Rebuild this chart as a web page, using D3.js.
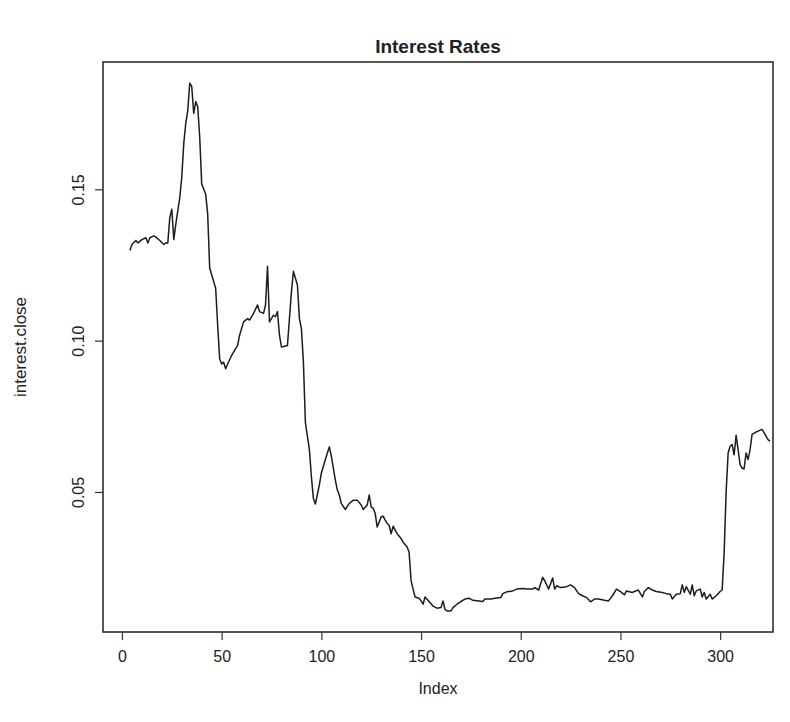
<!DOCTYPE html>
<html>
<head>
<meta charset="utf-8">
<title>Interest Rates</title>
<script src="https://cdn.jsdelivr.net/npm/d3@7/dist/d3.min.js"></script>
<style>
  html, body { margin: 0; padding: 0; background: #fff; }
  svg { display: block; }
  text { font-family: "Liberation Sans", Arial, sans-serif; fill: #222; }
</style>
</head>
<body>
<div id="chart"></div>
<script>
// Observation number (Index) of each vertex of the series
const index = [
  4, 5, 7, 8, 10, 12, 13, 14, 16, 17, 19, 21, 22, 23, 24, 25, 26, 27, 29, 30,
  31, 32, 33, 34, 35, 36, 37, 38, 39, 40, 41, 42, 43, 44, 45, 47, 48, 49, 50, 51,
  52, 53, 55, 58, 59, 61, 63, 64, 66, 68, 69, 71, 72, 73, 74, 76, 77, 78, 79, 80,
  83, 84, 85, 86, 88, 89, 90, 91, 92, 94, 95, 96, 97, 99, 100, 102, 104, 105, 107, 108,
  109, 110, 112, 114, 116, 118, 120, 121, 123, 124, 125, 126, 127, 128, 130, 131, 132, 133, 134, 135,
  136, 138, 140, 141, 143, 144, 145, 146, 147, 149, 150, 151, 152, 154, 156, 158, 160, 161, 162, 163,
  165, 166, 168, 170, 172, 174, 176, 179, 181, 182, 185, 187, 190, 191, 193, 196, 198, 201, 203, 206,
  207, 209, 211, 212, 214, 216, 217, 218, 220, 223, 225, 227, 229, 231, 233, 235, 237, 239, 242, 244,
  246, 248, 250, 252, 253, 256, 257, 259, 261, 262, 264, 266, 268, 271, 273, 275, 276, 278, 280, 281,
  282, 283, 285, 286, 287, 288, 290, 291, 292, 293, 295, 296, 298, 300, 301, 302, 303, 304, 305, 306,
  307, 308, 309, 310, 311, 312, 313, 314, 315, 316, 318, 319, 321, 322, 324, 325
];

// interest.close at each of those observations
const close = [
  0.1298, 0.1318, 0.1331, 0.1323, 0.1334, 0.1340, 0.1323, 0.1340, 0.1346, 0.1342,
  0.1331, 0.1318, 0.1323, 0.1323, 0.1407, 0.1434, 0.1334, 0.1384, 0.1473, 0.1540,
  0.1651, 0.1718, 0.1760, 0.1851, 0.1840, 0.1751, 0.1790, 0.1773, 0.1673, 0.1518,
  0.1501, 0.1484, 0.1418, 0.1240, 0.1218, 0.1173, 0.1051, 0.0940, 0.0923, 0.0929,
  0.0907, 0.0923, 0.0951, 0.0984, 0.1018, 0.1062, 0.1073, 0.1068, 0.1090, 0.1118,
  0.1096, 0.1090, 0.1118, 0.1246, 0.1062, 0.1084, 0.1079, 0.1096, 0.1018, 0.0979,
  0.0984, 0.1073, 0.1162, 0.1229, 0.1184, 0.1073, 0.1040, 0.0929, 0.0729, 0.0640,
  0.0551, 0.0479, 0.0460, 0.0523, 0.0562, 0.0607, 0.0649, 0.0618, 0.0540, 0.0507,
  0.0490, 0.0462, 0.0442, 0.0462, 0.0473, 0.0473, 0.0457, 0.0442, 0.0457, 0.0490,
  0.0451, 0.0446, 0.0429, 0.0384, 0.0418, 0.0420, 0.0407, 0.0396, 0.0390, 0.0362,
  0.0387, 0.0362, 0.0346, 0.0334, 0.0318, 0.0301, 0.0207, 0.0179, 0.0153, 0.0149,
  0.0140, 0.0129, 0.0153, 0.0138, 0.0123, 0.0116, 0.0118, 0.0140, 0.0112, 0.0107,
  0.0107, 0.0118, 0.0129, 0.0138, 0.0146, 0.0149, 0.0142, 0.0140, 0.0138, 0.0146,
  0.0146, 0.0149, 0.0151, 0.0164, 0.0170, 0.0173, 0.0179, 0.0181, 0.0179, 0.0179,
  0.0184, 0.0176, 0.0218, 0.0207, 0.0179, 0.0216, 0.0179, 0.0190, 0.0184, 0.0187,
  0.0193, 0.0184, 0.0164, 0.0157, 0.0151, 0.0137, 0.0146, 0.0146, 0.0142, 0.0140,
  0.0157, 0.0179, 0.0171, 0.0160, 0.0173, 0.0168, 0.0171, 0.0176, 0.0153, 0.0171,
  0.0184, 0.0176, 0.0171, 0.0168, 0.0164, 0.0162, 0.0146, 0.0162, 0.0164, 0.0193,
  0.0168, 0.0187, 0.0162, 0.0193, 0.0157, 0.0173, 0.0179, 0.0153, 0.0168, 0.0146,
  0.0162, 0.0146, 0.0157, 0.0171, 0.0176, 0.0300, 0.0500, 0.0629, 0.0651, 0.0657,
  0.0623, 0.0687, 0.0640, 0.0590, 0.0579, 0.0576, 0.0629, 0.0607, 0.0640, 0.0690,
  0.0698, 0.0701, 0.0707, 0.0696, 0.0673, 0.0668
];

const xTicks = [0, 50, 100, 150, 200, 250, 300];
const yTicks = [0.05, 0.10, 0.15];
const xLimits = [-9.5, 326.5];

const width = 790, height = 722;
const box = { left: 103, right: 773, top: 62, bottom: 632 };

const svg = d3.select("#chart").append("svg")
  .attr("width", width)
  .attr("height", height);

const x = d3.scaleLinear().domain(xLimits).range([box.left, box.right]);

// y limits padded 4% beyond the data range on both sides
const [yMin, yMax] = d3.extent(close);
const pad = 0.04 * (yMax - yMin);
const y = d3.scaleLinear().domain([yMin - pad, yMax + pad]).range([box.bottom, box.top]);

const points = index.map((d, i) => [d, close[i]]);

// series line
svg.append("path")
  .datum(points)
  .attr("fill", "none")
  .attr("stroke", "#1c1c1c")
  .attr("stroke-width", 1.5)
  .attr("stroke-linejoin", "round")
  .attr("d", d3.line().x(d => x(d[0])).y(d => y(d[1])));

// plot frame
svg.append("rect")
  .attr("x", box.left)
  .attr("y", box.top)
  .attr("width", box.right - box.left)
  .attr("height", box.bottom - box.top)
  .attr("fill", "none")
  .attr("stroke", "#222")
  .attr("stroke-width", 1.5);

// x axis
const xAxis = svg.append("g")
  .attr("transform", `translate(0,${box.bottom})`)
  .call(d3.axisBottom(x).tickValues(xTicks).tickFormat(d3.format("d"))
    .tickSizeInner(8).tickSizeOuter(0).tickPadding(11));
xAxis.select(".domain").remove();
xAxis.selectAll("line").attr("stroke", "#333").attr("stroke-width", 1.2);
xAxis.selectAll("text")
  .style("font-family", '"Liberation Sans", Arial, sans-serif')
  .style("font-size", "16px")
  .attr("fill", "#222");

// y axis with rotated labels
const yAxis = svg.append("g")
  .attr("transform", `translate(${box.left},0)`)
  .call(d3.axisLeft(y).tickValues(yTicks).tickFormat(d3.format(".2f"))
    .tickSizeInner(8).tickSizeOuter(0));
yAxis.select(".domain").remove();
yAxis.selectAll("line").attr("stroke", "#333").attr("stroke-width", 1.2);
yAxis.selectAll("text")
  .attr("x", null).attr("dy", null)
  .attr("transform", "translate(-19,0) rotate(-90)")
  .attr("text-anchor", "middle")
  .style("font-family", '"Liberation Sans", Arial, sans-serif')
  .style("font-size", "16px")
  .attr("fill", "#222");

// titles
svg.append("text")
  .attr("x", (box.left + box.right) / 2)
  .attr("y", 53)
  .attr("text-anchor", "middle")
  .style("font-size", "19px")
  .style("font-weight", "bold")
  .text("Interest Rates");

svg.append("text")
  .attr("x", (box.left + box.right) / 2)
  .attr("y", 694)
  .attr("text-anchor", "middle")
  .style("font-size", "16px")
  .text("Index");

svg.append("text")
  .attr("transform", `translate(26,${(box.top + box.bottom) / 2}) rotate(-90)`)
  .attr("text-anchor", "middle")
  .style("font-size", "17px")
  .text("interest.close");
</script>
</body>
</html>
